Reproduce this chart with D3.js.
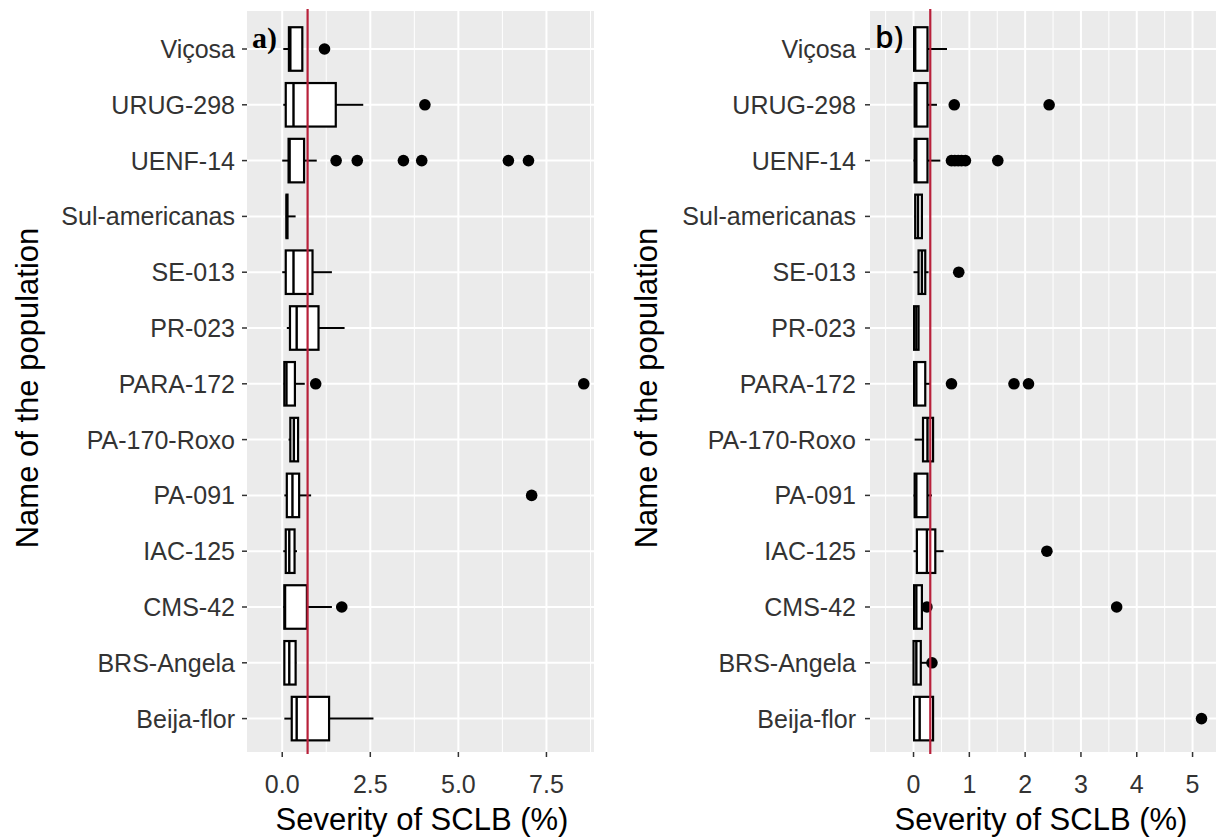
<!DOCTYPE html>
<html>
<head>
<meta charset="utf-8">
<script src="https://cdnjs.cloudflare.com/ajax/libs/d3/7.8.5/d3.min.js"></script>
<style>
    body { margin: 0; background: #ffffff; }
    svg { display: block; font-family: "Liberation Sans", Arial, sans-serif; }
    .tick-label { fill: #333333; font-size: 25px; }
    .axis-title { fill: #000000; font-size: 31px; }
</style>
</head>
<body>
<div id="chart-area"></div>
<script>

// Populations, top to bottom as in the figure
var populations = ["Viçosa", "URUG-298", "UENF-14", "Sul-americanas", "SE-013", "PR-023",
    "PARA-172", "PA-170-Roxo", "PA-091", "IAC-125", "CMS-42", "BRS-Angela", "Beija-flor"];

// Panel a) box stats: [lower whisker, q1, median, q3, upper whisker]
var boxesA = [
    [0.03, 0.19, 0.23, 0.57, 0.57],
    [0.03, 0.10, 0.32, 1.52, 2.30],
    [0.00, 0.18, 0.21, 0.62, 0.98],
    [0.10, 0.12, 0.13, 0.15, 0.38],
    [0.00, 0.10, 0.32, 0.86, 1.41],
    [0.13, 0.22, 0.41, 1.03, 1.77],
    [0.04, 0.06, 0.12, 0.36, 0.64],
    [0.18, 0.23, 0.33, 0.45, 0.47],
    [0.06, 0.13, 0.29, 0.48, 0.82],
    [0.03, 0.10, 0.20, 0.35, 0.42],
    [0.03, 0.06, 0.08, 0.70, 1.41],
    [0.06, 0.06, 0.20, 0.38, 0.40],
    [0.06, 0.27, 0.41, 1.33, 2.59]
];
var outliersA = [[1.20], [4.05], [1.53, 2.13, 3.44, 3.96, 6.42, 6.99], [], [], [],
    [0.95, 8.56], [], [7.08], [], [1.69], [], []];

// Panel b) box stats
var boxesB = [
    [0.01, 0.01, 0.03, 0.25, 0.60],
    [0.02, 0.02, 0.05, 0.25, 0.42],
    [0.00, 0.02, 0.05, 0.25, 0.48],
    [0.02, 0.03, 0.08, 0.15, 0.16],
    [0.00, 0.09, 0.15, 0.21, 0.27],
    [0.01, 0.01, 0.05, 0.09, 0.09],
    [0.00, 0.01, 0.05, 0.21, 0.30],
    [0.02, 0.17, 0.25, 0.35, 0.35],
    [0.00, 0.02, 0.05, 0.25, 0.33],
    [0.00, 0.06, 0.24, 0.39, 0.54],
    [0.00, 0.01, 0.05, 0.15, 0.20],
    [0.00, 0.00, 0.05, 0.13, 0.28],
    [0.00, 0.01, 0.11, 0.35, 0.35]
];
var outliersB = [[], [0.73, 2.43], [0.68, 0.74, 0.80, 0.86, 0.93, 1.51], [], [0.81], [],
    [0.68, 1.80, 2.06], [], [], [2.39], [0.24, 3.64], [0.33], [5.16]];

// red reference lines
var refLines = [0.72, 0.30];

// x tick values
var ticksA = [0, 2.5, 5, 7.5];
var ticksB = [0, 1, 2, 3, 4, 5];

var width = 1218, height = 838;

var svg = d3.select("#chart-area").append("svg")
    .attr("width", width)
    .attr("height", height);

// shared vertical scale
var y = d3.scalePoint()
    .domain(populations)
    .range([49, 718.6]);
var step = y.step();
var panelTop = 11, panelBottom = 752;

drawPanel({
    left: 247, right: 594, domain: [-1.0, 8.85],
    boxes: boxesA, outliers: outliersA, ref: refLines[0],
    ticks: ticksA, tickFormat: d3.format(".1f"), minorStep: 1.25,
    labelRight: 235, yTitleX: 27, xTitleX: 422,
    tag: "a)", tagX: 252, tagFont: "'Liberation Serif', 'Times New Roman', serif", tagWeight: "bold"
});

drawPanel({
    left: 870, right: 1216, domain: [-0.78, 5.42],
    boxes: boxesB, outliers: outliersB, ref: refLines[1],
    ticks: ticksB, tickFormat: d3.format("d"), minorStep: 0.5,
    labelRight: 856, yTitleX: 646, xTitleX: 1041,
    tag: "b)", tagX: 875, tagFont: "'Open Sans', sans-serif", tagWeight: "600"
});


function drawPanel(cfg) {

    var x = d3.scaleLinear()
        .domain(cfg.domain)
        .range([cfg.left, cfg.right]);

    var g = svg.append("g");

    // grey background
    g.append("rect")
        .attr("x", cfg.left).attr("y", panelTop)
        .attr("width", cfg.right - cfg.left)
        .attr("height", panelBottom - panelTop)
        .attr("fill", "#ebebeb");

    // minor vertical grid (between the majors)
    var minor = [];
    var m = Math.ceil(cfg.domain[0] / cfg.minorStep) * cfg.minorStep;
    for (; m <= cfg.domain[1]; m += cfg.minorStep) {
        var isMajor = cfg.ticks.some(function(t) { return Math.abs(t - m) < 1e-6; });
        if (!isMajor) minor.push(m);
    }
    g.selectAll(".minor").data(minor).enter().append("line")
        .attr("x1", function(d) { return x(d); })
        .attr("x2", function(d) { return x(d); })
        .attr("y1", panelTop).attr("y2", panelBottom)
        .attr("stroke", "#ffffff").attr("stroke-width", 1);

    // major grid
    g.selectAll(".vmajor").data(cfg.ticks).enter().append("line")
        .attr("x1", function(d) { return x(d); })
        .attr("x2", function(d) { return x(d); })
        .attr("y1", panelTop).attr("y2", panelBottom)
        .attr("stroke", "#ffffff").attr("stroke-width", 2);

    g.selectAll(".hmajor").data(populations).enter().append("line")
        .attr("x1", cfg.left).attr("x2", cfg.right)
        .attr("y1", function(d) { return y(d); })
        .attr("y2", function(d) { return y(d); })
        .attr("stroke", "#ffffff").attr("stroke-width", 2);

    // boxplots
    var bh = step * 0.78;
    var box = g.selectAll(".box").data(cfg.boxes).enter().append("g")
        .attr("transform", function(d, i) { return "translate(0," + y(populations[i]) + ")"; });

    box.append("line")
        .attr("x1", function(d) { return x(d[0]); })
        .attr("x2", function(d) { return x(d[1]); })
        .attr("stroke", "#000").attr("stroke-width", 2);
    box.append("line")
        .attr("x1", function(d) { return x(d[3]); })
        .attr("x2", function(d) { return x(d[4]); })
        .attr("stroke", "#000").attr("stroke-width", 2);
    box.append("rect")
        .attr("x", function(d) { return x(d[1]); })
        .attr("width", function(d) { return Math.max(0.5, x(d[3]) - x(d[1])); })
        .attr("y", -bh / 2).attr("height", bh)
        .attr("fill", "#ffffff").attr("stroke", "#000").attr("stroke-width", 2.2);
    box.append("line")
        .attr("x1", function(d) { return x(d[2]); })
        .attr("x2", function(d) { return x(d[2]); })
        .attr("y1", -bh / 2).attr("y2", bh / 2)
        .attr("stroke", "#000").attr("stroke-width", 2.4);

    // outliers
    var pts = [];
    cfg.outliers.forEach(function(list, i) {
        list.forEach(function(v) { pts.push({pop: populations[i], value: v}); });
    });
    g.selectAll(".outlier").data(pts).enter().append("circle")
        .attr("cx", function(d) { return x(d.value); })
        .attr("cy", function(d) { return y(d.pop); })
        .attr("r", 5.8)
        .attr("fill", "#000");

    // red reference line
    g.append("line")
        .attr("x1", x(cfg.ref)).attr("x2", x(cfg.ref))
        .attr("y1", panelTop - 2).attr("y2", panelBottom + 2)
        .attr("stroke", "#b8203a").attr("stroke-width", 2.2);

    // y axis ticks + labels
    g.selectAll(".ytick").data(populations).enter().append("line")
        .attr("x1", cfg.left - 5).attr("x2", cfg.left)
        .attr("y1", function(d) { return y(d); })
        .attr("y2", function(d) { return y(d); })
        .attr("stroke", "#333").attr("stroke-width", 1.5);
    g.selectAll(".ylab").data(populations).enter().append("text")
        .attr("class", "tick-label")
        .attr("x", cfg.labelRight)
        .attr("y", function(d) { return y(d); })
        .attr("dy", "0.36em")
        .attr("text-anchor", "end")
        .text(function(d) { return d; });

    // x axis ticks + labels
    g.selectAll(".xtick").data(cfg.ticks).enter().append("line")
        .attr("x1", function(d) { return x(d); })
        .attr("x2", function(d) { return x(d); })
        .attr("y1", panelBottom).attr("y2", panelBottom + 5)
        .attr("stroke", "#333").attr("stroke-width", 1.5);
    g.selectAll(".xlab").data(cfg.ticks).enter().append("text")
        .attr("class", "tick-label")
        .attr("x", function(d) { return x(d); })
        .attr("y", 793)
        .attr("text-anchor", "middle")
        .text(cfg.tickFormat);

    // titles
    g.append("text").attr("class", "axis-title")
        .attr("x", cfg.xTitleX).attr("y", 830)
        .attr("text-anchor", "middle")
        .text("Severity of SCLB (%)");
    g.append("text").attr("class", "axis-title")
        .attr("transform", "translate(" + (cfg.yTitleX + 11) + ",388) rotate(-90)")
        .attr("text-anchor", "middle")
        .text("Name of the population");

    // panel tag
    g.append("text")
        .attr("x", cfg.tagX).attr("y", 48)
        .style("font-family", cfg.tagFont)
        .style("font-weight", cfg.tagWeight)
        .style("font-size", "30px")
        .attr("fill", "#000")
        .text(cfg.tag);
}

</script>
</body>
</html>
